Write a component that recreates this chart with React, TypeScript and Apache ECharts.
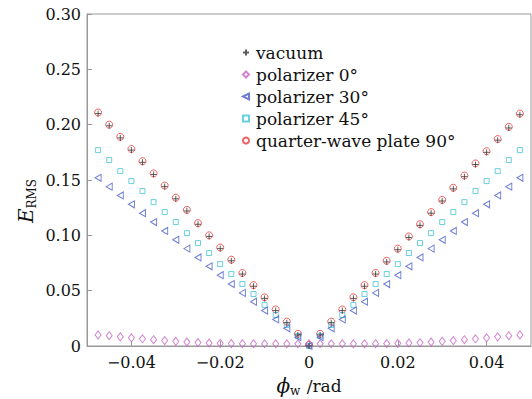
import React, { useEffect, useRef } from "react";
import * as echarts from "echarts";

const FONT = "DejaVu Serif";

const phi = [
  -0.0475, -0.045, -0.0425, -0.04, -0.0375, -0.035, -0.0325, -0.03, -0.0275, -0.025,
  -0.0225, -0.02, -0.0175, -0.015, -0.0125, -0.01, -0.0075, -0.005, -0.0025, 0,
  0.0025, 0.005, 0.0075, 0.01, 0.0125, 0.015, 0.0175, 0.02, 0.0225, 0.025,
  0.0275, 0.03, 0.0325, 0.035, 0.0375, 0.04, 0.0425, 0.045, 0.0475,
];

const vacuum = [
  0.210, 0.199, 0.188, 0.177, 0.166, 0.155, 0.144, 0.133, 0.122, 0.110,
  0.099, 0.088, 0.077, 0.065, 0.054, 0.043, 0.032, 0.021, 0.010, 0.000,
  0.010, 0.021, 0.032, 0.043, 0.054, 0.065, 0.076, 0.087, 0.098, 0.109,
  0.120, 0.131, 0.142, 0.153, 0.164, 0.175, 0.186, 0.197, 0.209,
];

const polarizer0 = [
  0.0100, 0.0093, 0.0083, 0.0074, 0.0065, 0.0057, 0.0049, 0.0042, 0.0036, 0.0031,
  0.0027, 0.0024, 0.0022, 0.0021, 0.0020, 0.0020, 0.0020, 0.0020, 0.0020, 0.0020,
  0.0020, 0.0020, 0.0020, 0.0020, 0.0020, 0.0021, 0.0022, 0.0024, 0.0027, 0.0031,
  0.0036, 0.0042, 0.0049, 0.0057, 0.0065, 0.0074, 0.0083, 0.0093, 0.0100,
];

const polarizer30 = [
  0.152, 0.144, 0.136, 0.128, 0.120, 0.112, 0.104, 0.096, 0.088, 0.080,
  0.072, 0.064, 0.056, 0.048, 0.040, 0.032, 0.024, 0.016, 0.008, 0.000,
  0.008, 0.016, 0.024, 0.032, 0.040, 0.048, 0.056, 0.064, 0.072, 0.080,
  0.088, 0.096, 0.104, 0.112, 0.120, 0.128, 0.136, 0.144, 0.152,
];

const polarizer45 = [
  0.177, 0.168, 0.158, 0.149, 0.140, 0.130, 0.121, 0.112, 0.102, 0.093,
  0.084, 0.074, 0.065, 0.056, 0.047, 0.037, 0.028, 0.019, 0.009, 0.000,
  0.009, 0.019, 0.028, 0.037, 0.047, 0.056, 0.065, 0.074, 0.084, 0.093,
  0.102, 0.112, 0.121, 0.130, 0.140, 0.149, 0.158, 0.168, 0.177,
];

const quarterWave90 = [
  0.211, 0.200, 0.189, 0.178, 0.167, 0.156, 0.145, 0.134, 0.123, 0.111,
  0.100, 0.089, 0.078, 0.066, 0.055, 0.044, 0.033, 0.022, 0.011, 0.001,
  0.011, 0.022, 0.033, 0.044, 0.055, 0.066, 0.077, 0.088, 0.099, 0.110,
  0.121, 0.132, 0.143, 0.154, 0.165, 0.176, 0.187, 0.198, 0.210,
];

const xTicks = [-0.04, -0.02, 0, 0.02, 0.04];
const seriesNames = ["vacuum", "polarizer 0°", "polarizer 30°", "polarizer 45°", "quarter-wave plate 90°"];

const PLUS = "path://M5,0 L5,10 M0,5 L10,5";
const LEFT_TRI = "path://M0,5 L10,0 L10,10 Z";

function pts(ys: number[]) {
  return phi.map((x, i) => [x, ys[i]]);
}

function fmtX(v: number) {
  if (Math.abs(v) < 1e-9) return "0";
  return (v < 0 ? "\u2212" : "") + Math.abs(v).toFixed(2);
}

export default function App() {
  const ref = useRef<HTMLDivElement>(null);
  useEffect(() => {
    document.body.style.margin = "0";
    const chart = echarts.init(ref.current!, null, { renderer: "svg" });
    const hollow = (c: string) => ({ color: "transparent", borderColor: c, borderWidth: 1 });
    chart.setOption({
      animation: false,
      backgroundColor: "#fff",
      textStyle: { fontFamily: FONT },
      grid: { left: 87, right: 1, top: 14, bottom: 53, show: true, borderColor: "#999", borderWidth: 1 },
      legend: {
        orient: "vertical",
        left: 242,
        top: 44,
        padding: 0,
        itemWidth: 6,
        itemHeight: 6,
        itemGap: 5,
        textStyle: { fontFamily: FONT, fontSize: 17, color: "#111", lineHeight: 17, padding: [0, 0, 0, 2] },
        data: seriesNames,
      },
      xAxis: {
        type: "value",
        min: -0.05,
        max: 0.05,
        axisLine: { show: true, onZero: false, lineStyle: { color: "#999" } },
        axisTick: { show: true, inside: true, length: 5, lineStyle: { color: "#999" }, customValues: xTicks },
        axisLabel: { customValues: xTicks, formatter: fmtX, color: "#111", fontSize: 16, fontFamily: FONT, margin: 8 },
        splitLine: { show: false },
      },
      yAxis: {
        type: "value",
        min: 0,
        max: 0.3,
        interval: 0.05,
        axisLine: { show: true, onZero: false, lineStyle: { color: "#999" } },
        axisTick: { show: true, inside: true, length: 5, lineStyle: { color: "#999" } },
        axisLabel: {
          formatter: (v: number) => (v === 0 ? "0" : v.toFixed(2)),
          color: "#111",
          fontSize: 16,
          fontFamily: FONT,
          margin: 6,
        },
        splitLine: { show: false },
      },
      graphic: [
        {
          type: "text",
          x: 26,
          y: 201,
          rotation: Math.PI / 2,
          style: {
            text: "{e|E}{s|RMS}",
            align: "center",
            verticalAlign: "middle",
            rich: {
              e: { fontSize: 20, fontStyle: "italic", fontFamily: FONT, fill: "#111" },
              s: { fontSize: 12, fontFamily: FONT, fill: "#111", verticalAlign: "bottom", padding: [11, 0, 0, 0] },
            },
          },
        },
        {
          type: "text",
          x: 309,
          y: 386,
          style: {
            text: "{p|ϕ}{s|w}{r| /rad}",
            align: "center",
            verticalAlign: "middle",
            rich: {
              p: { fontSize: 20, fontStyle: "italic", fontFamily: FONT, fill: "#111" },
              s: { fontSize: 12, fontFamily: FONT, fill: "#111", verticalAlign: "bottom", padding: [10, 1, 0, 0] },
              r: { fontSize: 17, fontFamily: FONT, fill: "#111" },
            },
          },
        },
      ],
      series: [
        { name: seriesNames[4], type: "scatter", data: pts(quarterWave90), symbol: "circle", symbolSize: 7, itemStyle: hollow("#ee3a3a"), z: 2 },
        { name: seriesNames[3], type: "scatter", data: pts(polarizer45), symbol: "rect", symbolSize: 5, itemStyle: hollow("#45c4d6"), z: 2 },
        { name: seriesNames[2], type: "scatter", data: pts(polarizer30), symbol: LEFT_TRI, symbolSize: [6, 7], itemStyle: hollow("#4a5ec8"), z: 2 },
        { name: seriesNames[1], type: "scatter", data: pts(polarizer0), symbol: "diamond", symbolSize: [6, 8], itemStyle: hollow("#c464c4"), z: 2 },
        { name: seriesNames[0], type: "scatter", data: pts(vacuum), symbol: PLUS, symbolSize: 6, itemStyle: { color: "transparent", borderColor: "#333", borderWidth: 1 }, z: 3 },
      ],
    });
    return () => chart.dispose();
  }, []);
  return <div ref={ref} style={{ width: 532, height: 399 }} />;
}
